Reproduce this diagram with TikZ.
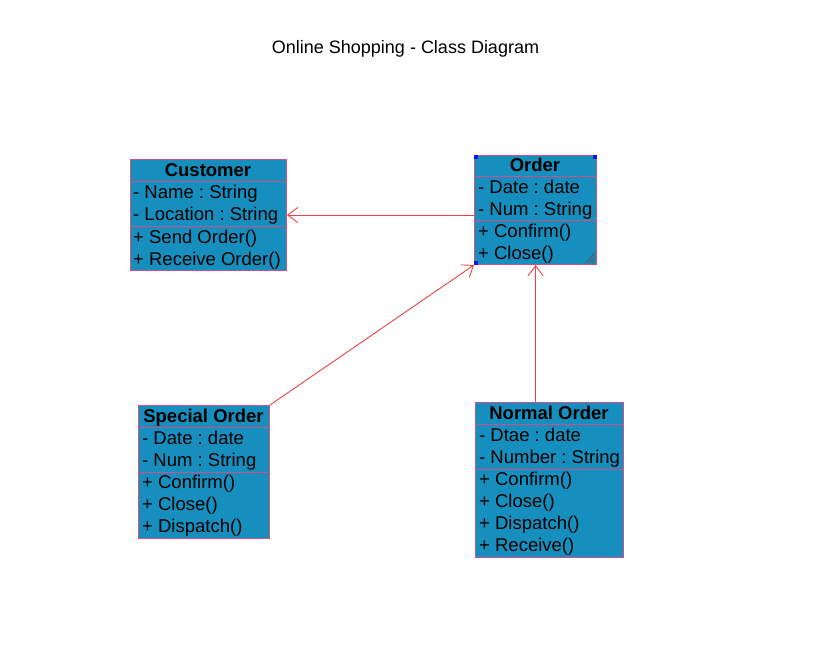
\documentclass[tikz,border=0pt]{standalone}
\usepackage{fontspec}
\setmainfont{Liberation Sans}
\usetikzlibrary{arrows.meta}
\definecolor{boxfill}{RGB}{22,143,190}
\definecolor{boxline}{RGB}{204,80,140}
\definecolor{linkred}{RGB}{236,66,66}
\definecolor{selblue}{RGB}{20,20,230}
\frenchspacing
\begin{document}
\begin{tikzpicture}[x=1pt,y=-1pt,
  classbox/.style={draw=boxline, fill=boxfill, line width=1pt, inner sep=0pt, anchor=north west},
  divider/.style={draw=boxline, line width=1pt},
  hdr/.style={font=\fontsize{18.5}{21}\selectfont\bfseries, inner sep=0pt, text height=13.2pt, text depth=0pt},
  row/.style={font=\fontsize{18.5}{21}\selectfont, inner sep=0pt, anchor=west, text height=13.2pt, text depth=0pt},
  link/.style={draw=linkred, line width=0.9pt, -{Straight Barb[length=10pt,width=15pt,line width=0.9pt]}},
  selmark/.style={fill=selblue, draw=none, minimum size=4pt, inner sep=0pt},
  hatch/.style={draw=black!65, line width=0.8pt}]
\useasboundingbox (0,0) rectangle (818,662);
\fill[white] (0,0) rectangle (818,662);

\node[font=\fontsize{18}{21}\selectfont, inner sep=0pt, text height=12.9pt, text depth=0pt] (title) at (405.5,47) {Online Shopping - Class Diagram};

% Customer
\node[classbox, minimum width=156pt, minimum height=111pt] (cust) at (130,159) {};
\draw[divider] (130,181.5) -- (286,181.5);
\draw[divider] (130,226.5) -- (286,226.5);
\node[hdr] (custh) at (208,170) {Customer};
\node[row] (cust1) at (133,192) {- Name : String};
\node[row] (cust2) at (133,214) {- Location : String};
\node[row] (cust3) at (133,237) {+ Send Order()};
\node[row] (cust4) at (133,259) {+ Receive Order()};

% Order
\node[classbox, minimum width=122pt, minimum height=109pt] (order) at (474,155) {};
\draw[divider] (474,176.5) -- (596,176.5);
\draw[divider] (474,220.5) -- (596,220.5);
\node[hdr] (orderh) at (535,165) {Order};
\node[row] (order1) at (478,187) {- Date : date};
\node[row] (order2) at (478,209) {- Num : String};
\node[row] (order3) at (478,231) {+ Confirm()};
\node[row] (order4) at (478,253) {+ Close()};
\draw[hatch] (585,263) -- (595,253);
\draw[hatch] (588.5,263) -- (595,256.5);
\draw[hatch] (592,263) -- (595,260);
\node[selmark, anchor=north west] (m1) at (order.north west) {};
\node[selmark, anchor=north east] (m2) at (order.north east) {};
\node[selmark, anchor=south west] (m3) at (order.south west) {};

% Special Order
\node[classbox, minimum width=131pt, minimum height=133pt] (spec) at (138,405) {};
\draw[divider] (138,427.5) -- (269,427.5);
\draw[divider] (138,472.5) -- (269,472.5);
\node[hdr] (spech) at (203.5,416) {Special Order};
\node[row] (spec1) at (142,438) {- Date : date};
\node[row] (spec2) at (142,460) {- Num : String};
\node[row] (spec3) at (142,482) {+ Confirm()};
\node[row] (spec4) at (142,504) {+ Close()};
\node[row] (spec5) at (142,526) {+ Dispatch()};

% Normal Order
\node[classbox, minimum width=148pt, minimum height=155pt] (norm) at (475,402) {};
\draw[divider] (475,424.5) -- (623,424.5);
\draw[divider] (475,469.5) -- (623,469.5);
\node[hdr] (normh) at (549,413) {Normal Order};
\node[row] (norm1) at (479,435) {- Dtae : date};
\node[row] (norm2) at (479,457) {- Number : String};
\node[row] (norm3) at (479,479) {+ Confirm()};
\node[row] (norm4) at (479,501) {+ Close()};
\node[row] (norm5) at (479,523) {+ Dispatch()};
\node[row] (norm6) at (479,545) {+ Receive()};

% Connectors
\draw[link] (order.west |- cust.east) -- (cust.east);
\draw[link] (spec.north east) -- (order.south west);
\draw[link] (order.south |- norm.north) -- (order.south);
\end{tikzpicture}
\end{document}
